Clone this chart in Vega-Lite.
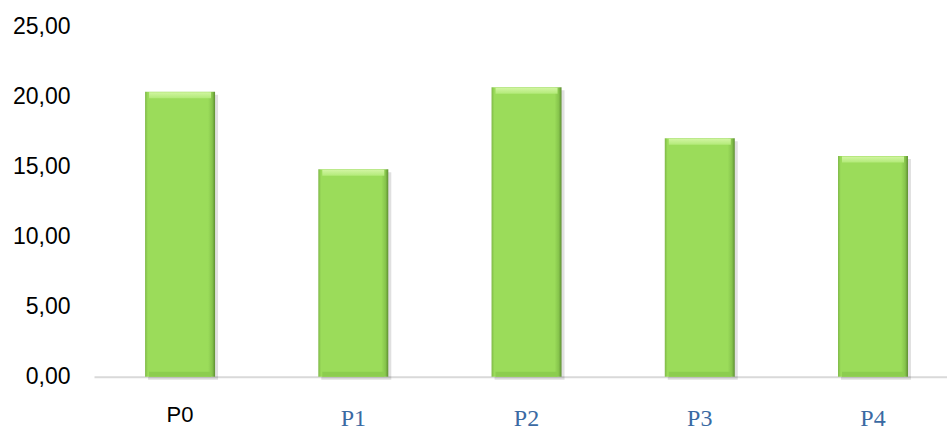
{
  "$schema": "https://vega.github.io/schema/vega-lite/v6.json",
  "width": 853,
  "height": 350,
  "autosize": {"type": "none"},
  "padding": {"left": 94, "top": 26.7, "right": 0, "bottom": 51.3},
  "background": "white",
  "config": {"view": {"stroke": null}},
  "data": {
    "values": [
      {"periodo": "P0", "valor": 20.36},
      {"periodo": "P1", "valor": 14.81},
      {"periodo": "P2", "valor": 20.67},
      {"periodo": "P3", "valor": 17.03},
      {"periodo": "P4", "valor": 15.76}
    ]
  },
  "encoding": {
    "x": {
      "field": "periodo",
      "type": "nominal",
      "sort": null,
      "scale": {"paddingInner": 0.596, "paddingOuter": 0.26, "align": 0.567},
      "axis": {
        "title": null,
        "labelAngle": 0,
        "ticks": false,
        "domainColor": "#d9d9d9",
        "domainWidth": 2,
        "labelBaseline": "top",
        "labelFontSize": {"condition": {"test": "datum.value === 'P0'", "value": 22}, "value": 24},
        "labelFont": {"condition": {"test": "datum.value === 'P0'", "value": "Liberation Sans"}, "value": "Liberation Serif"},
        "labelColor": {"condition": {"test": "datum.value === 'P0'", "value": "#000000"}, "value": "#3a6aa3"},
        "labelPadding": {"condition": {"test": "datum.value === 'P0'", "value": 28}, "value": 30}
      }
    },
    "y": {
      "field": "valor",
      "type": "quantitative",
      "scale": {"domain": [0, 25], "nice": false},
      "axis": {
        "title": null,
        "values": [0, 5, 10, 15, 20, 25],
        "labelExpr": "replace(format(datum.value, '.2f'), '.', ',')",
        "domain": false,
        "ticks": false,
        "grid": false,
        "labelFont": "Liberation Sans",
        "labelFontSize": 23,
        "labelColor": "#000000",
        "labelPadding": 24
      }
    }
  },
  "layer": [
    {
      "mark": {"type": "bar", "color": "#000000", "opacity": 0.12, "xOffset": 3, "yOffset": 3}
    },
    {
      "mark": {
        "type": "bar",
        "fill": {
          "gradient": "linear",
          "x1": 0, "y1": 0, "x2": 1, "y2": 0,
          "stops": [
            {"offset": 0, "color": "#7fb848"},
            {"offset": 0.04, "color": "#9bdc5a"},
            {"offset": 0.9, "color": "#9bdc5a"},
            {"offset": 0.96, "color": "#86c44c"},
            {"offset": 1, "color": "#5e8e32"}
          ]
        }
      }
    },
    {
      "mark": {
        "type": "tick",
        "thickness": 6,
        "size": 62,
        "yOffset": 3.5,
        "fill": {
          "gradient": "linear",
          "x1": 0, "y1": 0, "x2": 0, "y2": 1,
          "stops": [
            {"offset": 0, "color": "#d2f5a2"},
            {"offset": 1, "color": "#b2ea78"}
          ]
        },
        "opacity": 1
      }
    },
    {
      "mark": {
        "type": "tick",
        "thickness": 5,
        "size": 62,
        "yOffset": -2.5,
        "color": "#8ccd4f",
        "opacity": 1
      },
      "encoding": {"y": {"datum": 0}}
    }
  ]
}
